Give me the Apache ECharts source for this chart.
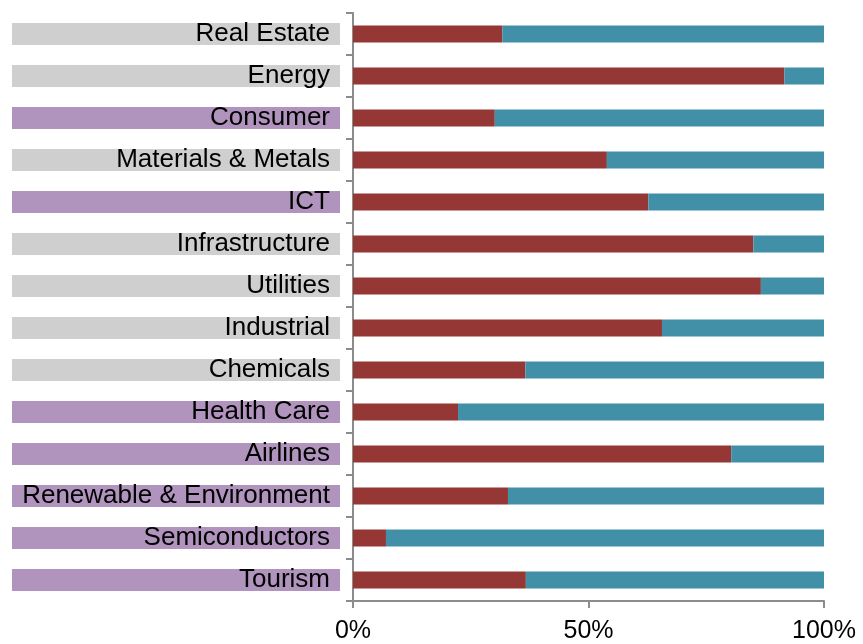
<!DOCTYPE html>
<html>
<head>
<meta charset="utf-8">
<script src="https://cdn.jsdelivr.net/npm/echarts@6/dist/echarts.min.js"></script>
<style>
    html, body { margin: 0; padding: 0; background: #fff; }
    #main { width: 863px; height: 644px; }
</style>
</head>
<body>
<div id="main"></div>
<script>
// sectors, top to bottom
var sectors = ['Real Estate', 'Energy', 'Consumer', 'Materials & Metals', 'ICT', 'Infrastructure',
    'Utilities', 'Industrial', 'Chemicals', 'Health Care', 'Airlines', 'Renewable & Environment',
    'Semiconductors', 'Tourism'];
// which label box is purple
var highlighted = ['Consumer', 'ICT', 'Health Care', 'Airlines', 'Renewable & Environment',
    'Semiconductors', 'Tourism'];
// share in % (red part, teal part)
var redShare = [31.7, 91.6, 30.1, 53.9, 62.7, 85.0, 86.6, 65.6, 36.6, 22.3, 80.3, 32.9, 7.0, 36.7];
var tealShare = [68.3, 8.4, 69.9, 46.1, 37.3, 15.0, 13.4, 34.4, 63.4, 77.7, 19.7, 67.1, 93.0, 63.3];
var xTicks = [0, 50, 100];

var chart = echarts.init(document.getElementById('main'));

var labelBox = {
    width: 318,
    height: 22,
    lineHeight: 24,
    align: 'right',
    padding: [0, 10, 0, 0],
    fontSize: 26,
    color: '#000',
    fontFamily: 'Liberation Sans, Arial, sans-serif'
};

var option = {
    animation: false,
    grid: {
        left: 353,
        right: 39,
        top: 13,
        bottom: 40,
        containLabel: false
    },
    xAxis: {
        type: 'value',
        min: xTicks[0],
        max: xTicks[xTicks.length - 1],
        interval: 50,
        splitLine: {show: false},
        axisLine: {
            show: true,
            lineStyle: {color: '#8c8c8c', width: 2}
        },
        axisTick: {
            show: true,
            length: 7,
            lineStyle: {color: '#8c8c8c', width: 2}
        },
        axisLabel: {
            margin: 18,
            fontSize: 25,
            color: '#000',
            fontFamily: 'Liberation Sans, Arial, sans-serif',
            formatter: '{value}%'
        }
    },
    yAxis: {
        type: 'category',
        inverse: true,
        data: sectors,
        axisLine: {
            show: true,
            lineStyle: {color: '#8c8c8c', width: 2}
        },
        axisTick: {
            show: true,
            length: 7,
            lineStyle: {color: '#8c8c8c', width: 2}
        },
        axisLabel: {
            margin: 13,
            formatter: function (value) {
                var key = highlighted.indexOf(value) >= 0 ? 'p' : 'g';
                return '{' + key + '|' + value + '}';
            },
            rich: {
                g: Object.assign({backgroundColor: '#cfcfcf'}, labelBox),
                p: Object.assign({backgroundColor: '#b094bd'}, labelBox)
            }
        }
    },
    series: [
        {
            name: 'red',
            type: 'bar',
            stack: 'total',
            barWidth: 17,
            data: redShare,
            itemStyle: {color: '#943735'}
        },
        {
            name: 'teal',
            type: 'bar',
            stack: 'total',
            barWidth: 17,
            data: tealShare,
            itemStyle: {color: '#4190a8'}
        }
    ]
};
chart.setOption(option);
</script>
</body>
</html>
